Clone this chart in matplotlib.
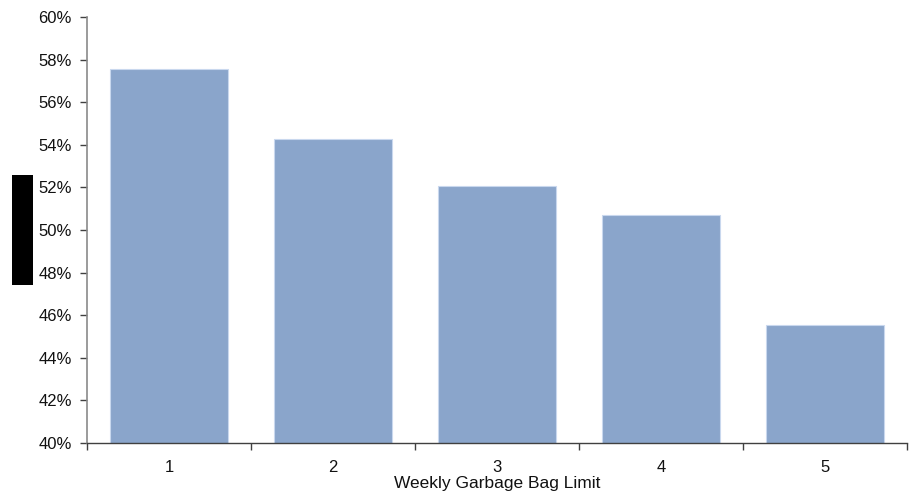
import matplotlib
matplotlib.use("Agg")
import matplotlib.pyplot as plt
from matplotlib.patches import Rectangle
from matplotlib.ticker import FuncFormatter, MultipleLocator

categories = ["1", "2", "3", "4", "5"]
values = [57.56, 54.27, 52.07, 50.70, 45.54]
x_label = "Weekly Garbage Bag Limit"

plt.rcParams['font.family'] = ['Liberation Sans', 'DejaVu Sans']

W, H = 911, 495
fig = plt.figure(figsize=(W/100, H/100), dpi=100)
ax = fig.add_axes([87/W, 1-443/H, 820/W, 426/H])

pos = list(range(len(categories)))
ax.bar(pos, values, width=0.72, color='#8AA5CB', edgecolor='#C9D8EE', linewidth=0.8, zorder=2)

ax.set_xlim(-0.5, len(categories)-0.5)
ax.set_ylim(40, 60)
ax.yaxis.set_major_locator(MultipleLocator(2))
ax.yaxis.set_major_formatter(FuncFormatter(lambda v, p: f"{v:.0f}%"))

ax.set_xticks([p + 0.5 for p in [-1] + pos], minor=False)
ax.set_xticklabels([])
ax.set_xticks(pos, minor=True)
ax.set_xticklabels(categories, minor=True)
ax.tick_params(axis='x', which='major', direction='out', length=5, width=1, color='#404040')
ax.tick_params(axis='x', which='minor', length=0, pad=12, labelsize=12, labelcolor='#111111')
ax.tick_params(axis='y', direction='out', length=5, width=1, color='#404040', labelsize=12, labelcolor='#111111', pad=6)

for s in ['top', 'right']:
    ax.spines[s].set_visible(False)
ax.spines['left'].set_color('#8A8A8A')
ax.spines['left'].set_linewidth(1.2)
ax.spines['bottom'].set_color('#404040')
ax.spines['bottom'].set_linewidth(1.0)

ax.set_xlabel(x_label, fontsize=12.5, color='#111111', labelpad=1)

fig.patches.append(Rectangle((12/W, 1-285/H), 21/W, 110/H, transform=fig.transFigure,
                             facecolor='black', edgecolor='none'))

fig.savefig("out.png", dpi=100)
